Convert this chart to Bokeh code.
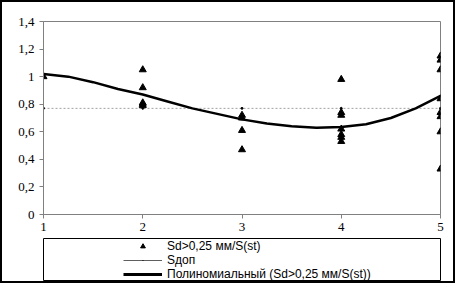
from bokeh.plotting import figure
from bokeh.layouts import column
from bokeh.models import FixedTicker, Legend, LegendItem, Range1d
from bokeh.embed import file_html
from bokeh.resources import INLINE

# ---- data ----
x_ticks = [1, 2, 3, 4, 5]
y_ticks = [0, 0.2, 0.4, 0.6, 0.8, 1.0, 1.2, 1.4]
y_tick_labels = ["0", "0,2", "0,4", "0,6", "0,8", "1", "1,2", "1,4"]

sd_x = [1, 2, 2, 2, 2, 2,
        3, 3, 3, 3,
        4, 4, 4, 4, 4, 4, 4,
        5, 5, 5, 5, 5, 5, 5, 5]
sd_y = [1.00, 1.05, 0.92, 0.81, 0.80, 0.79,
        0.72, 0.70, 0.61, 0.47,
        0.98, 0.74, 0.72, 0.62, 0.58, 0.56, 0.53,
        1.15, 1.12, 1.05, 0.84, 0.74, 0.71, 0.60, 0.33]

sdop_x = [1, 2, 3, 4, 5]
sdop_y = [0.77, 0.77, 0.77, 0.77, 0.77]

trend_x = [1, 1.25, 1.5, 1.75, 2, 2.25, 2.5, 2.75, 3, 3.25, 3.5, 3.75, 4, 4.25, 4.5, 4.75, 5]
trend_y = [1.02, 1.00, 0.96, 0.91, 0.87, 0.82, 0.77, 0.73, 0.69, 0.66, 0.64, 0.63,
           0.635, 0.655, 0.70, 0.77, 0.86]

label_sd = "Sd>0,25 мм/S(st)"
label_sdop = "Sдоп"
label_trend = "Полиномиальный (Sd>0,25 мм/S(st))"

W = 451          # inside the 2px outer border (total 455)
H_MAIN = 236
H_LEG = 43       # total height 236 + 43 + 4 = 283

p = figure(width=W, height=H_MAIN, output_backend="svg", toolbar_location=None,
           x_range=Range1d(1, 5), y_range=Range1d(0, 1.4),
           min_border_left=38, min_border_right=13, min_border_top=19, min_border_bottom=24)
p.grid.visible = False
p.background_fill_color = "white"
p.border_fill_color = "white"
p.outline_line_color = "#808080"
p.outline_line_width = 1

for ax in (p.xaxis, p.yaxis):
    ax.axis_line_color = "#808080"
    ax.major_tick_line_color = "#808080"
    ax.minor_tick_line_color = None
    ax.major_tick_in = 0
    ax.major_tick_out = 4
    ax.major_label_text_font = "Liberation Serif"
    ax.major_label_text_font_size = "13px"
    ax.major_label_text_color = "black"

p.xaxis.ticker = FixedTicker(ticks=x_ticks)
p.yaxis.ticker = FixedTicker(ticks=y_ticks)
p.yaxis.major_label_overrides = {t: l for t, l in zip(y_ticks, y_tick_labels)}
p.xaxis.major_label_standoff = 4
p.yaxis.major_label_standoff = 5

# Sdop dotted line with small dots
p.line(sdop_x, sdop_y, line_color="#a0a0a0", line_width=1, line_dash="2 2")
p.scatter(sdop_x, sdop_y, marker="circle", size=2, fill_color="black", line_color="black")

# polynomial trend
p.line(trend_x, trend_y, line_color="black", line_width=2.5)

# scatter triangles
p.scatter(sd_x, sd_y, marker="triangle", size=7, fill_color="black", line_color="black")

# ---- legend panel (its frame is the legend box); data kept out of view ----
q = figure(width=W, height=H_LEG, output_backend="svg", toolbar_location=None,
           x_axis_type=None, y_axis_type=None,
           x_range=Range1d(1, 5), y_range=Range1d(10, 11),
           min_border_left=41, min_border_right=12, min_border_top=0, min_border_bottom=0)
q.grid.visible = False
q.outline_line_color = "black"
q.outline_line_width = 1
q.border_fill_color = "white"

r_tri = q.scatter(sd_x, sd_y, marker="triangle", size=6, fill_color="black", line_color="black")
r_line = q.line(sdop_x, sdop_y, line_color="#606060", line_width=1)
r_dot = q.scatter(sdop_x, sdop_y, marker="dot", size=6, fill_color="black", line_color="black")
r_trend = q.line(trend_x, trend_y, line_color="black", line_width=3)

legend = Legend(items=[
    LegendItem(label=label_sd, renderers=[r_tri], index=0),
    LegendItem(label=label_sdop, renderers=[r_line, r_dot], index=0),
    LegendItem(label=label_trend, renderers=[r_trend], index=0),
], location=(80, 0))
legend.border_line_color = None
legend.background_fill_alpha = 0
legend.padding = 0
legend.margin = 0
legend.spacing = 0
legend.glyph_width = 39
legend.glyph_height = 12
legend.label_height = 12
legend.label_standoff = 5
legend.label_text_font = "Liberation Sans"
legend.label_text_font_size = "12px"
legend.label_text_color = "black"
q.add_layout(legend)

layout = column(p, q, spacing=0, styles={"border": "2px solid black"})

open("out.html", "w").write(file_html(layout, INLINE))
